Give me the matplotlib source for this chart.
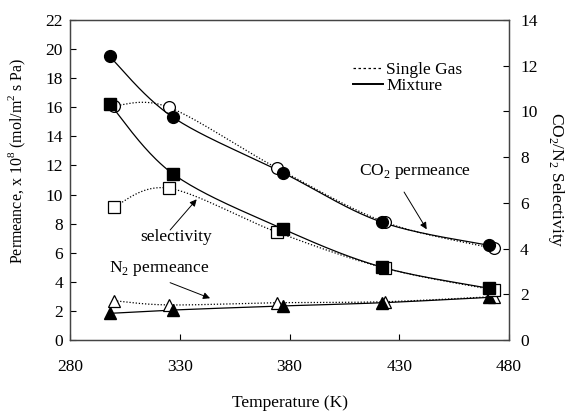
import numpy as np
import matplotlib
matplotlib.use("Agg")
import matplotlib.pyplot as plt
from matplotlib.lines import Line2D

plt.rcParams['font.family'] = ['Liberation Serif', 'DejaVu Serif']
plt.rcParams['mathtext.fontset'] = 'custom'
plt.rcParams['mathtext.rm'] = 'Liberation Serif'

# Temperatures (K)
temp_mix = [298, 327, 377, 422, 471]
temp_single = [300, 325, 374.5, 423.5, 473]

# Permeance, x 10^8 mol/(m^2 s Pa)
co2_mix = [19.5, 15.3, 11.5, 8.1, 6.5]
co2_single = [16.1, 16.0, 11.8, 8.1, 6.3]
n2_mix = [1.83, 2.06, 2.34, 2.56, 2.93]
n2_single = [2.70, 2.41, 2.56, 2.63, 2.98]

# CO2/N2 selectivity
sel_mix = [10.34, 7.26, 4.86, 3.19, 2.26]
sel_single = [5.83, 6.64, 4.71, 3.14, 2.19]

x_ticks = [280, 330, 380, 430, 480]
y_ticks = list(range(0, 23, 2))
y2_ticks = list(range(0, 15, 2))


def smooth(x, y, xr, yr, n=40):
    """Catmull-Rom curve through the points, computed in axis-normalised space."""
    p = np.column_stack([np.asarray(x, float) / xr, np.asarray(y, float) / yr])
    p = np.vstack([p[0], p, p[-1]])
    out = []
    t = np.linspace(0, 1, n)[:, None]
    for i in range(1, len(p) - 2):
        p0, p1, p2, p3 = p[i - 1], p[i], p[i + 1], p[i + 2]
        c1 = p1 + (p2 - p0) / 6
        c2 = p2 - (p3 - p1) / 6
        seg = ((1 - t) ** 3) * p1 + 3 * ((1 - t) ** 2) * t * c1 + 3 * (1 - t) * t ** 2 * c2 + t ** 3 * p2
        out.append(seg if i == 1 else seg[1:])
    seg = np.vstack(out)
    return seg[:, 0] * xr, seg[:, 1] * yr


fig = plt.figure(figsize=(5.67, 4.12), dpi=100)
ax = fig.add_axes([0.1235, 0.1748, 0.7742, 0.7767])
ax2 = ax.twinx()

XR, YR, Y2R = 200.0, 22.0, 14.0
ms = 8.5

# CO2 permeance
ax.plot(*smooth(temp_mix, co2_mix, XR, YR), color='black', lw=0.9)
ax.plot(*smooth(temp_single, co2_single, XR, YR), color='black', lw=0.9, ls=(0, (1, 1.5)))
ax.plot(temp_single, co2_single, 'o', mfc='white', mec='black', mew=0.9, ms=ms)
ax.plot(temp_mix, co2_mix, 'o', color='black', ms=ms)

# N2 permeance
ax.plot(*smooth(temp_mix, n2_mix, XR, YR), color='black', lw=0.9)
ax.plot(*smooth(temp_single, n2_single, XR, YR), color='black', lw=0.9, ls=(0, (1, 1.5)))
ax.plot(temp_single, n2_single, '^', mfc='white', mec='black', mew=0.9, ms=ms)
ax.plot(temp_mix, n2_mix, '^', color='black', ms=ms)

# Selectivity
ax2.plot(*smooth(temp_mix, sel_mix, XR, Y2R), color='black', lw=0.9)
ax2.plot(*smooth(temp_single, sel_single, XR, Y2R), color='black', lw=0.9, ls=(0, (1, 1.5)))
ax2.plot(temp_single, sel_single, 's', mfc='white', mec='black', mew=0.9, ms=ms - 0.5)
ax2.plot(temp_mix, sel_mix, 's', color='black', ms=ms - 0.5)

ax.set_xlim(280, 480)
ax.set_ylim(0, 22)
ax2.set_ylim(0, 14)
ax.set_xticks(x_ticks)
ax.set_yticks(y_ticks)
ax2.set_yticks(y2_ticks)

fs = 12.5
ax.tick_params(axis='both', direction='in', length=4, width=0.8, labelsize=fs)
ax.tick_params(axis='y', pad=5)
ax.tick_params(axis='x', pad=14)
ax2.tick_params(axis='y', direction='in', length=4, width=0.8, labelsize=fs, pad=8)
for a in (ax, ax2):
    for s in a.spines.values():
        s.set_linewidth(0.9)
        s.set_color('#444444')

ax.set_xlabel('Temperature (K)', fontsize=fs)
ax.xaxis.set_label_coords(0.5, -0.172)
ax.set_ylabel('Permeance, x 10$^8$ (mol/m$^2$ s Pa)', fontsize=11.5)
ax.yaxis.set_label_coords(-0.096, 0.56)
ax2.set_ylabel('CO$_2$/N$_2$ Selectivity', fontsize=fs, rotation=270, va='center')
ax2.yaxis.set_label_coords(1.108, 0.5)

arrow = dict(arrowstyle='-|>', color='black', lw=0.7, mutation_scale=10, shrinkA=0, shrinkB=0)
ax.annotate('', xy=(442.5, 7.61), xytext=(432.2, 10.17), arrowprops=arrow)
ax.text(437.2, 11.57, 'CO$_2$ permeance', fontsize=fs, ha='center', va='center')
ax.annotate('', xy=(337.7, 9.67), xytext=(325.6, 7.56), arrowprops=arrow)
ax.text(328.2, 7.1, 'selectivity', fontsize=fs, ha='center', va='center')
ax.annotate('', xy=(343.8, 2.87), xytext=(325.6, 3.94), arrowprops=arrow)
ax.text(320.5, 4.93, 'N$_2$ permeance', fontsize=fs, ha='center', va='center')

handles = [Line2D([], [], color='black', lw=0.9, ls=(0, (2, 2))),
           Line2D([], [], color='black', lw=1.4)]
ax.legend(handles, ['Single Gas', 'Mixture'], loc='upper left', bbox_to_anchor=(0.625, 0.8975),
          frameon=False, fontsize=fs, handlelength=1.7, handletextpad=0.2,
          labelspacing=0.0, borderpad=0)

fig.savefig('out.png', dpi=100)
